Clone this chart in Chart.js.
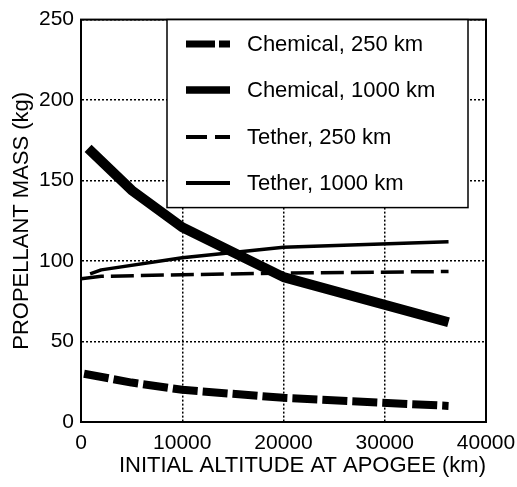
<!DOCTYPE html>
<html>
<head>
<meta charset="utf-8">
<script src="https://cdn.jsdelivr.net/npm/chart.js@4/dist/chart.umd.min.js"></script>
<style>
    html, body { margin: 0; padding: 0; background: #fff; }
    #wrap { width: 517px; height: 487px; }
</style>
</head>
<body>
<div id="wrap"><canvas id="chart" width="517" height="487"></canvas></div>
<script>
// Series (altitude km -> propellant kg)
const chem250Alt = [300, 5000, 10000, 20000, 36300];
const chem250Mass = [30, 24.5, 20, 15, 10];
const chem1000Alt = [700, 5000, 10000, 20000, 36300];
const chem1000Mass = [170, 144, 121, 90, 62];
const tether250Alt = [0, 2000, 10000, 20000, 36300];
const tether250Mass = [89, 90.5, 91.5, 92.5, 93.5];
const tether1000Alt = [900, 2000, 10000, 20000, 36300];
const tether1000Mass = [92, 94.5, 102, 108.5, 112];

const seriesLabels = ['Chemical, 250 km', 'Chemical, 1000 km', 'Tether, 250 km', 'Tether, 1000 km'];
const xTicks = [0, 10000, 20000, 30000, 40000];
const yTicks = [0, 50, 100, 150, 200, 250];

const FONT = 'Liberation Sans, Arial, sans-serif';

function pts(xs, ys) {
    return xs.map((x, i) => ({ x: x, y: ys[i] }));
}

const styles = [
    { width: 8, dash: [25, 5], legendDash: [29, 4], legendWidth: 7 },
    { width: 10, dash: [], legendDash: [], legendWidth: 7.5 },
    { width: 3.5, dash: [23, 7], legendDash: [21, 8], legendWidth: 4 },
    { width: 3.5, dash: [], legendDash: [], legendWidth: 4 }
];

const datasets = [
    pts(chem250Alt, chem250Mass),
    pts(chem1000Alt, chem1000Mass),
    pts(tether250Alt, tether250Mass),
    pts(tether1000Alt, tether1000Mass)
].map((data, i) => ({
    label: seriesLabels[i],
    data: data,
    borderColor: '#000',
    borderWidth: styles[i].width,
    borderDash: styles[i].dash,
    borderCapStyle: 'butt',
    borderJoinStyle: 'round',
    pointRadius: 0,
    tension: 0,
    fill: false
}));

// frame around the plot plus the boxed legend inside it
const framePlugin = {
    id: 'frame',
    afterDatasetsDraw(chart) {
        const c = chart.ctx;
        const a = chart.chartArea;
        c.save();
        c.strokeStyle = '#000';
        c.lineWidth = 2;
        c.strokeRect(a.left, a.top, a.right - a.left, a.bottom - a.top);

        // legend box
        const bx = 167, by = a.top, bw = 301, bh = 188;
        c.fillStyle = '#fff';
        c.fillRect(bx, by, bw, bh);
        c.lineWidth = 1.5;
        c.strokeRect(bx, by, bw, bh);

        const rows = [44, 90, 137, 183];
        c.font = '22px ' + FONT;
        c.textBaseline = 'middle';
        c.textAlign = 'left';
        rows.forEach((ry, i) => {
            c.strokeStyle = '#000';
            c.lineWidth = styles[i].legendWidth;
            c.setLineDash(styles[i].legendDash);
            c.lineCap = 'butt';
            c.beginPath();
            c.moveTo(186, ry);
            c.lineTo(230, ry);
            c.stroke();
            c.setLineDash([]);
            c.fillStyle = '#000';
            c.fillText(seriesLabels[i], 247, ry + 1);
        });
        c.restore();
    }
};

new Chart(document.getElementById('chart'), {
    type: 'line',
    data: { datasets: datasets },
    options: {
        responsive: false,
        animation: false,
        events: [],
        layout: { padding: { top: 18, right: 31, left: 0, bottom: 0 } },
        plugins: {
            legend: { display: false },
            tooltip: { enabled: false }
        },
        scales: {
            x: {
                type: 'linear',
                min: 0,
                max: 40000,
                afterBuildTicks(scale) {
                    scale.ticks = xTicks.map(v => ({ value: v }));
                },
                afterFit(scale) {
                    scale.height = 65;
                    // last label runs off the canvas in the original
                    scale.paddingRight = 0;
                    scale.paddingLeft = 0;
                },
                ticks: {
                    color: '#000',
                    font: { family: FONT, size: 21 },
                    padding: 9,
                    maxRotation: 0,
                    callback: v => String(v)
                },
                grid: {
                    color: '#000',
                    lineWidth: 1.5,
                    drawTicks: false
                },
                border: { display: true, color: '#000', width: 2, dash: [2, 2] },
                title: {
                    display: true,
                    text: 'INITIAL ALTITUDE AT APOGEE (km)',
                    color: '#000',
                    align: 'end',
                    font: { family: FONT, size: 22 },
                    padding: { top: 0, bottom: 8 }
                }
            },
            y: {
                type: 'linear',
                min: 0,
                max: 250,
                afterBuildTicks(scale) {
                    scale.ticks = yTicks.map(v => ({ value: v }));
                },
                afterFit(scale) { scale.width = 81; },
                ticks: {
                    color: '#000',
                    font: { family: FONT, size: 21 },
                    padding: 7,
                    callback: v => String(v)
                },
                grid: {
                    color: '#000',
                    lineWidth: 1.5,
                    drawTicks: false
                },
                border: { display: true, color: '#000', width: 2, dash: [2, 2] },
                title: {
                    display: true,
                    text: 'PROPELLANT MASS (kg)',
                    color: '#000',
                    font: { family: FONT, size: 22 },
                    padding: { top: 9, bottom: 0 }
                }
            }
        }
    },
    plugins: [framePlugin]
});
</script>
</body>
</html>
